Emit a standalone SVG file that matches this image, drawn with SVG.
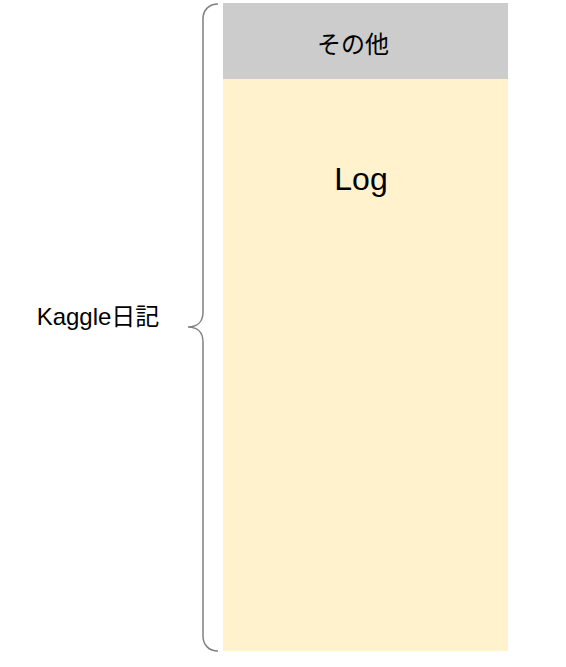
<svg xmlns="http://www.w3.org/2000/svg" width="566" height="667" viewBox="0 0 566 667">
<style>
.t{font-family:"Liberation Sans","Noto Sans CJK JP",sans-serif;fill:#000;text-anchor:middle}
.brace{fill:none;stroke:#808080;stroke-width:1.5}
</style>
<rect width="566" height="667" fill="#fff"/>
<g id="log">
<rect x="223" y="79" width="285" height="572" fill="#fff2cc"/>
<text class="t" x="361" y="190" font-size="32">Log</text>
</g>
<g id="other">
<rect x="223" y="3" width="285" height="76" fill="#cccccc"/>
<text class="t" x="353" y="53" font-size="24">その他</text>
</g>
<g id="connectors">
<path class="brace" d="M218,4 C209,4 203,10 203,19 L203,312 C203,322 197,327 188,327 C197,327 203,332 203,342 L203,636 C203,645 209,651 218,651"/>
</g>
<g id="kaggle">
<text class="t" x="98" y="325" font-size="24">Kaggle日記</text>
</g>
</svg>
